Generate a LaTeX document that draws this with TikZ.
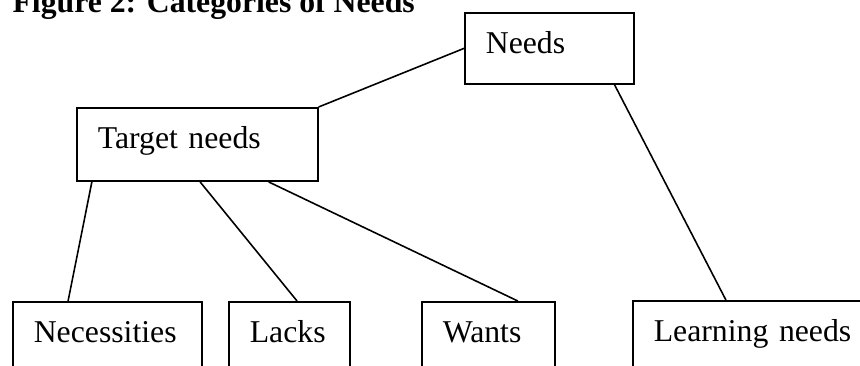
\documentclass[tikz,border=0pt]{standalone}
\usepackage{fontspec}
\setmainfont{Liberation Serif}
\tikzset{
  needbox/.style={draw, line width=0.7pt, anchor=north west, align=left,
    inner xsep=7.9pt, inner ysep=0pt, text height=15.5pt, font=\fontsize{12}{14}\selectfont},
  link/.style={line width=0.6pt}
}

\begin{document}
\begin{tikzpicture}[x=0.378pt, y=-0.378pt]
      % page frame, boxes at the bottom and right run off the page
      \clip (0,0) rectangle (860,365);

      % title
      \node[anchor=base west, inner sep=0pt, font=\fontsize{12}{14}\selectfont\bfseries] (title) at (12,12) {Figure 2: Categories of Needs};

      % top levels
      \node[needbox, text width=48.0pt, text depth=11.3pt] (needs) at (464,12) {Needs};
      \node[needbox, text width=75.2pt, text depth=12.1pt] (target) at (76,107) {Target needs};

      % bottom row
      \node[needbox, text width=55.6pt, text depth=11.3pt] (necessities) at (12,301) {Necessities};
      \node[needbox, text width=29.9pt, text depth=11.3pt] (lacks) at (228,301) {Lacks};
      \node[needbox, text width=34.5pt, text depth=11.3pt] (wants) at (421,301) {Wants};
      \node[needbox, text width=78.0pt, text depth=11.3pt] (learning) at (632,300) {Learning needs};

      % connectors
      \draw[link] (needs.west) -- (target.north east);
      \draw[link] ([xshift=-7.6pt]needs.south east) -- ([xshift=35.5pt]learning.north west);
      \draw[link] ([xshift=6.0pt]target.south west) -- ([xshift=21.2pt]necessities.north west);
      \draw[link] ([xshift=46.9pt]target.south west) -- ([xshift=26.1pt]lacks.north west);
      \draw[link] ([xshift=-18.9pt]target.south east) -- ([xshift=-14.4pt]wants.north east);
    \end{tikzpicture}
\end{document}
